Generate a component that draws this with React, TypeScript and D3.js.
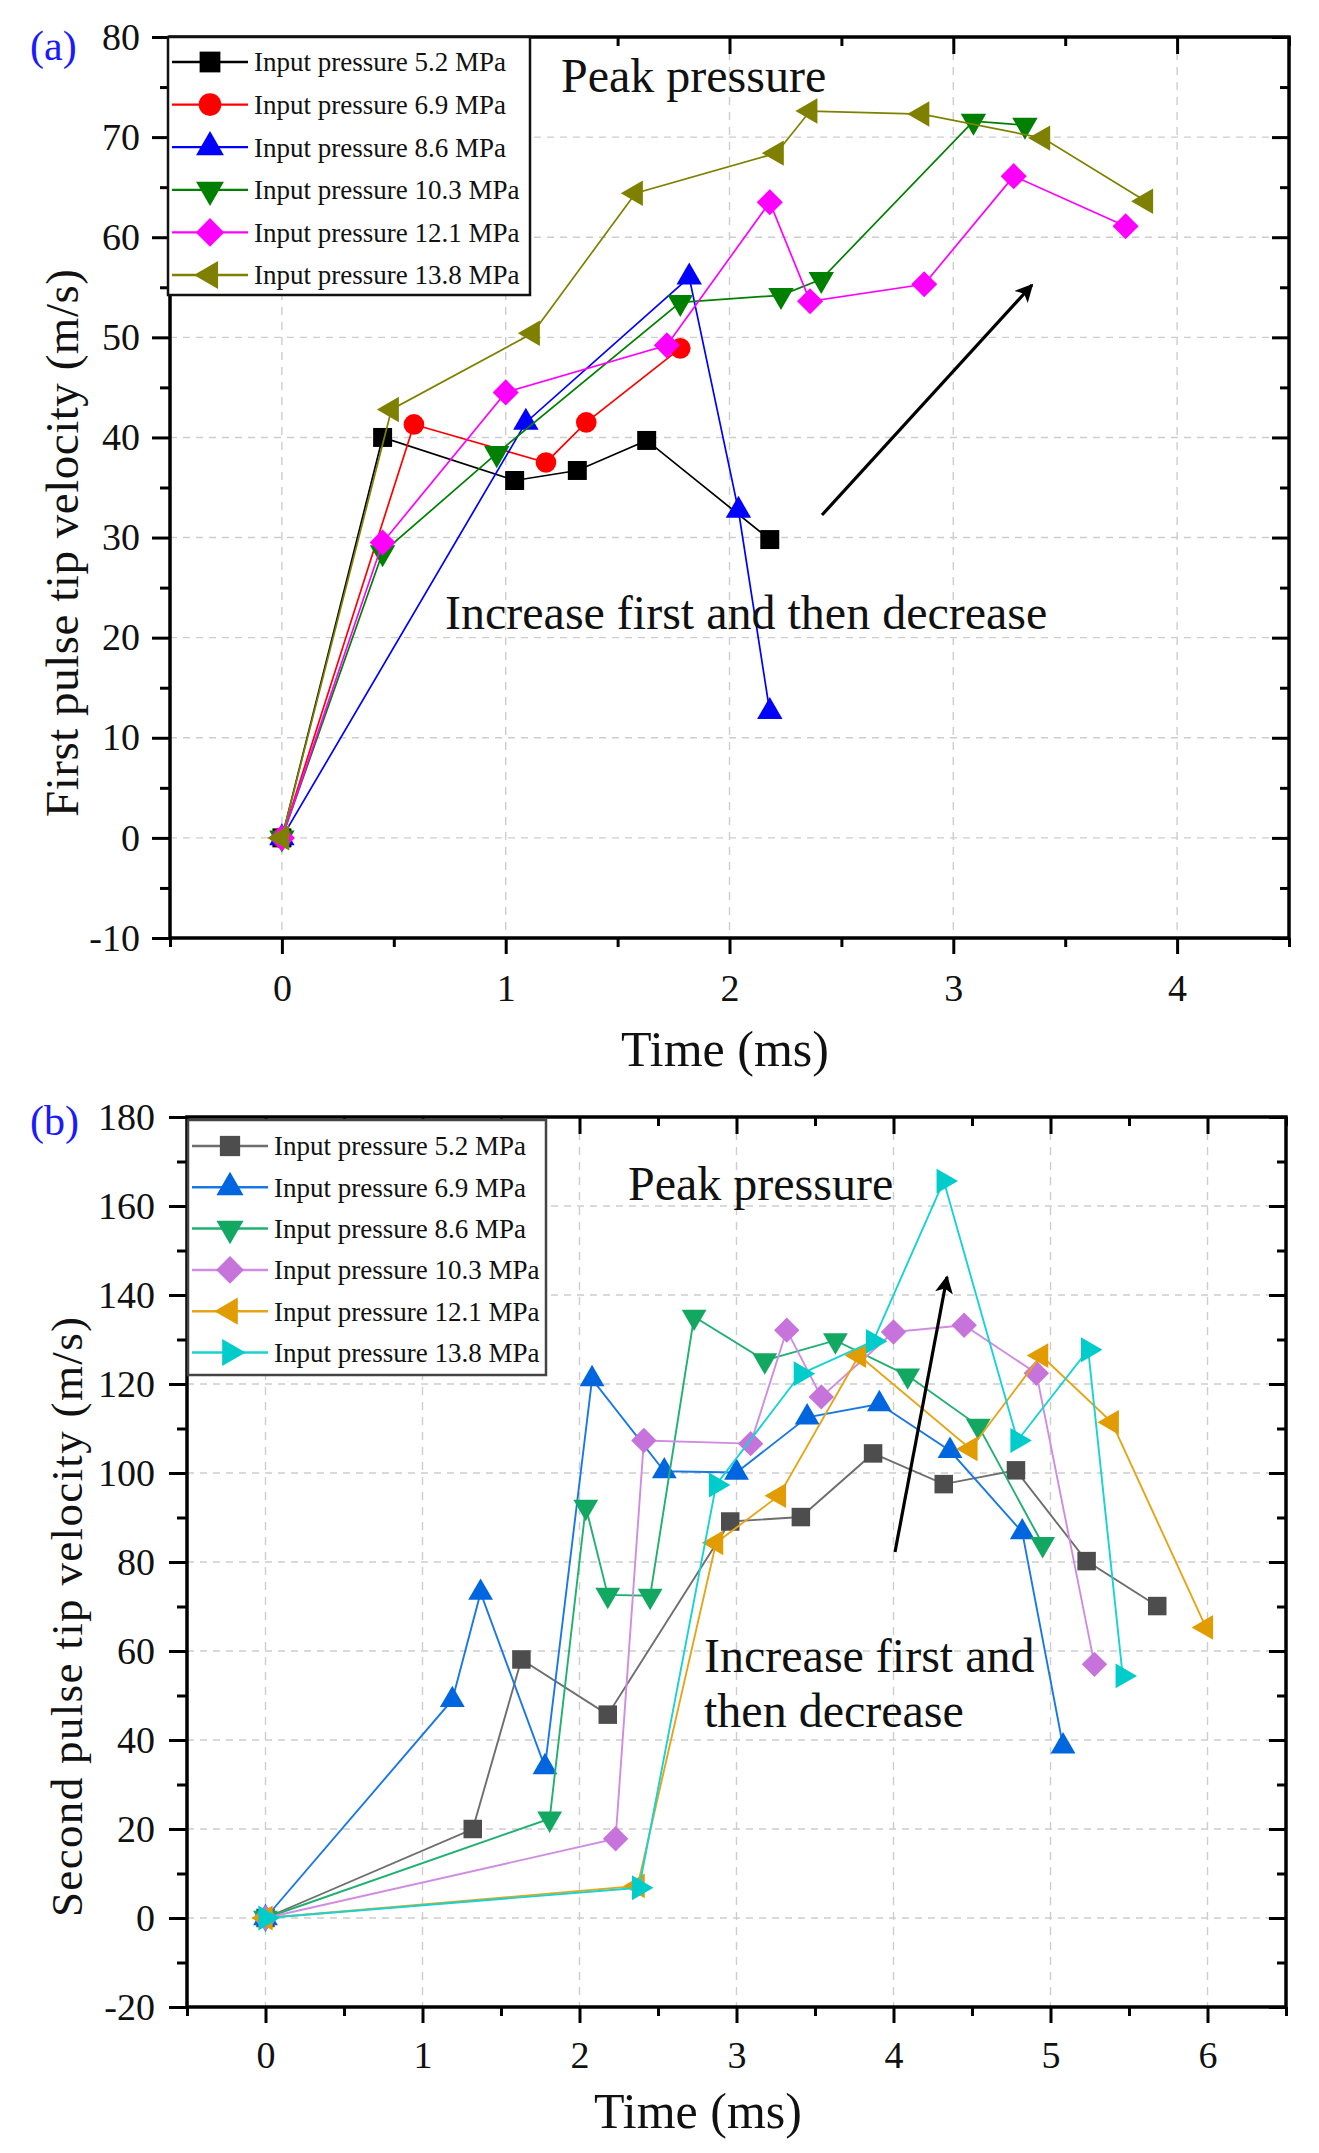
import React, { useEffect, useRef } from 'react';
import * as d3 from 'd3';

const FONT = "'Liberation Serif', 'Times New Roman', serif";

// ---- (a) first pulse tip velocity ----
const legendA = [
  'Input pressure 5.2 MPa',
  'Input pressure 6.9 MPa',
  'Input pressure 8.6 MPa',
  'Input pressure 10.3 MPa',
  'Input pressure 12.1 MPa',
  'Input pressure 13.8 MPa',
];
const tA52 = [0, 0.45, 1.04, 1.32, 1.63, 2.18];
const vA52 = [0, 40.0, 35.7, 36.7, 39.7, 29.8];
const tA69 = [0, 0.59, 1.18, 1.36, 1.78];
const vA69 = [0, 41.3, 37.5, 41.5, 48.9];
const tA86 = [0, 1.09, 1.82, 2.04, 2.18];
const vA86 = [0, 41.5, 56.0, 32.7, 12.6];
const tA103 = [0, 0.45, 0.96, 1.78, 2.23, 2.41, 3.09, 3.32];
const vA103 = [0, 28.5, 38.4, 53.5, 54.2, 55.8, 71.6, 71.2];
const tA121 = [0, 0.45, 1.0, 1.72, 2.18, 2.36, 2.87, 3.27, 3.77];
const vA121 = [0, 29.5, 44.5, 49.2, 63.5, 53.6, 55.3, 66.1, 61.1];
const tA138 = [0, 0.49, 1.12, 1.58, 2.21, 2.36, 2.86, 3.4, 3.86];
const vA138 = [0, 42.8, 50.4, 64.4, 68.4, 72.6, 72.3, 69.9, 63.6];
const colorsA = ['#000000', '#ff0000', '#0000ff', '#008000', '#ff00ff', '#808000'];
const shapesA = ['square', 'circle', 'triUp', 'triDown', 'diamond', 'triLeft'];
const xTicksA = [0, 1, 2, 3, 4];
const xMinorA = [-0.5, 0.5, 1.5, 2.5, 3.5, 4.5];
const yTicksA = [-10, 0, 10, 20, 30, 40, 50, 60, 70, 80];
const yMinorA = [-5, 5, 15, 25, 35, 45, 55, 65, 75];

// ---- (b) second pulse tip velocity ----
const legendB = legendA;
const tB52 = [0, 1.32, 1.63, 2.18, 2.96, 3.41, 3.87, 4.32, 4.78, 5.23, 5.68];
const vB52 = [0, 20.0, 58.1, 45.7, 89.1, 90.1, 104.4, 97.5, 100.6, 80.2, 70.1];
const tB69 = [0, 1.19, 1.37, 1.78, 2.08, 2.54, 3.0, 3.45, 3.91, 4.36, 4.82, 5.08];
const vB69 = [0, 49.0, 73.1, 33.9, 121.1, 100.4, 100.1, 112.5, 115.5, 105.0, 86.7, 38.6];
const tB86 = [0, 1.81, 2.04, 2.18, 2.45, 2.73, 3.18, 3.63, 4.09, 4.54, 4.95];
const vB86 = [0, 22.3, 92.4, 72.6, 72.4, 135.1, 125.3, 129.8, 121.9, 110.6, 84.0];
const tB103 = [0, 2.23, 2.41, 3.09, 3.32, 3.54, 4.0, 4.45, 4.91, 5.28];
const vB103 = [0, 17.8, 107.3, 106.6, 132.1, 117.1, 131.7, 133.2, 122.4, 57.0];
const tB121 = [0, 2.37, 2.87, 3.27, 3.78, 4.49, 4.94, 5.39, 5.99];
const vB121 = [0, 7.2, 84.3, 94.9, 126.4, 105.4, 126.4, 111.4, 65.3];
const tB138 = [0, 2.38, 2.87, 3.41, 3.87, 4.32, 4.79, 5.24, 5.46];
const vB138 = [0, 6.8, 97.3, 122.3, 129.6, 165.6, 107.3, 127.7, 54.4];
const colorsB = ['#4d4d4d', '#0066e0', '#12a862', '#c674dc', '#e09c00', '#00cccc'];
const lineColorsB = ['#6e6e6e', '#1a78e6', '#20b070', '#d08ce2', '#e4a618', '#19d2d2'];
const shapesB = ['square', 'triUp', 'triDown', 'diamond', 'triLeft', 'triRight'];
const xTicksB = [0, 1, 2, 3, 4, 5, 6];
const xMinorB = [-0.5, 0.5, 1.5, 2.5, 3.5, 4.5, 5.5, 6.5];
const yTicksB = [-20, 0, 20, 40, 60, 80, 100, 120, 140, 160, 180];
const yMinorB = [-10, 10, 30, 50, 70, 90, 110, 130, 150, 170];

interface Series {
  label: string;
  t: number[];
  v: number[];
  color: string;
  lineColor: string;
  shape: string;
}

const seriesA: Series[] = [
  [tA52, vA52], [tA69, vA69], [tA86, vA86], [tA103, vA103], [tA121, vA121], [tA138, vA138],
].map(([t, v], i) => ({
  label: legendA[i], t, v, color: colorsA[i], lineColor: colorsA[i], shape: shapesA[i],
}));

const seriesB: Series[] = [
  [tB52, vB52], [tB69, vB69], [tB86, vB86], [tB103, vB103], [tB121, vB121], [tB138, vB138],
].map(([t, v], i) => ({
  label: legendB[i], t, v, color: colorsB[i], lineColor: lineColorsB[i], shape: shapesB[i],
}));

function symbolPath(shape: string, k: number) {
  switch (shape) {
    case 'square':
      return d3.symbol(d3.symbolSquare, 360 * k)()!;
    case 'circle':
      return d3.symbol(d3.symbolCircle, 335 * k)()!;
    case 'diamond':
      return d3.symbol(d3.symbolSquare, 340 * k)()!;
    default:
      return d3.symbol(d3.symbolTriangle, 280 * k)()!;
  }
}

const rotation: Record<string, number> = {
  square: 0, circle: 0, diamond: 45, triUp: 0, triDown: 180, triLeft: -90, triRight: 90,
};

interface PanelSpec {
  tag: string;
  tagY: number;
  left: number;
  right: number;
  top: number;
  bottom: number;
  xDomain: [number, number];
  yDomain: [number, number];
  xTicks: number[];
  xMinor: number[];
  yTicks: number[];
  yMinor: number[];
  xPad: number;
  yPad: number;
  series: Series[];
  lineWidth: number;
  markerScale: number;
  legend: { x0: number; x1: number; y0: number; y1: number; row0: number; step: number; stroke: string };
  yTitle: string;
  yTitleX: number;
  yTitleY: number;
  yTitleLen: number;
  yTitleSize: number;
  xTitleX: number;
  xTitleY: number;
  peak: [number, number];
  note: string[];
  noteX: number;
  noteY: number[];
  arrow: [number, number, number, number];
}

function drawPanel(svg: d3.Selection<SVGSVGElement, unknown, null, undefined>, p: PanelSpec) {
  const x = d3.scaleLinear().domain(p.xDomain).range([p.left, p.right]);
  const y = d3.scaleLinear().domain(p.yDomain).range([p.bottom, p.top]);
  const g = svg.append('g');

  // Grid
  g.append('g')
    .selectAll('line')
    .data(p.xTicks)
    .join('line')
    .attr('x1', d => x(d)).attr('x2', d => x(d))
    .attr('y1', p.top).attr('y2', p.bottom)
    .attr('stroke', '#cdcdcd').attr('stroke-width', 1.4)
    .attr('stroke-dasharray', '8,7');
  g.append('g')
    .selectAll('line')
    .data(p.yTicks.filter(d => d !== p.yDomain[0] && d !== p.yDomain[1]))
    .join('line')
    .attr('x1', p.left).attr('x2', p.right)
    .attr('y1', d => y(d)).attr('y2', d => y(d))
    .attr('stroke', '#cdcdcd').attr('stroke-width', 1.4)
    .attr('stroke-dasharray', '7,6');

  // Axes
  const lab = (d: d3.NumberValue) => String(d);
  const none = () => '';
  g.append('g').attr('transform', `translate(${p.left},0)`)
    .call(d3.axisLeft(y).tickValues(p.yTicks).tickSize(18).tickPadding(p.yPad).tickFormat(lab));
  g.append('g').attr('transform', `translate(${p.left},0)`)
    .call(d3.axisLeft(y).tickValues(p.yMinor).tickSize(10).tickFormat(none));
  g.append('g').attr('transform', `translate(0,${p.bottom})`)
    .call(d3.axisBottom(x).tickValues(p.xTicks).tickSize(16).tickPadding(p.xPad).tickFormat(lab));
  g.append('g').attr('transform', `translate(0,${p.bottom})`)
    .call(d3.axisBottom(x).tickValues(p.xMinor).tickSize(9).tickFormat(none));
  // mirrored ticks pointing inward
  g.append('g').attr('transform', `translate(0,${p.top})`)
    .call(d3.axisBottom(x).tickValues(p.xTicks).tickSize(17).tickFormat(none));
  g.append('g').attr('transform', `translate(0,${p.top})`)
    .call(d3.axisBottom(x).tickValues(p.xMinor).tickSize(9).tickFormat(none));
  g.append('g').attr('transform', `translate(${p.right},0)`)
    .call(d3.axisLeft(y).tickValues(p.yTicks).tickSize(17).tickFormat(none));
  g.append('g').attr('transform', `translate(${p.right},0)`)
    .call(d3.axisLeft(y).tickValues(p.yMinor).tickSize(9).tickFormat(none));

  g.selectAll('.domain').remove();
  g.selectAll('.tick line').attr('stroke', '#000').attr('stroke-width', 3);
  g.selectAll('.tick text')
    .attr('fill', '#111')
    .style('font-family', FONT)
    .style('font-size', '38px');

  g.append('rect')
    .attr('x', p.left).attr('y', p.top)
    .attr('width', p.right - p.left).attr('height', p.bottom - p.top)
    .attr('fill', 'none').attr('stroke', '#000').attr('stroke-width', 3.5);

  // Series
  p.series.forEach(s => {
    const pts = s.t.map((t, i) => [t, s.v[i]] as [number, number]);
    const line = d3.line<[number, number]>().x(d => x(d[0])).y(d => y(d[1]));
    g.append('path')
      .attr('d', line(pts))
      .attr('fill', 'none')
      .attr('stroke', s.lineColor)
      .attr('stroke-width', p.lineWidth);
    g.append('g')
      .selectAll('path')
      .data(pts)
      .join('path')
      .attr('d', symbolPath(s.shape, p.markerScale))
      .attr('transform', d => `translate(${x(d[0])},${y(d[1])}) rotate(${rotation[s.shape]})`)
      .attr('fill', s.color);
  });

  // Legend
  const L = p.legend;
  const lg = g.append('g');
  lg.append('rect')
    .attr('x', L.x0).attr('y', L.y0)
    .attr('width', L.x1 - L.x0).attr('height', L.y1 - L.y0)
    .attr('fill', '#fff').attr('stroke', L.stroke).attr('stroke-width', 2.5);
  p.series.forEach((s, i) => {
    const cy = L.row0 + i * L.step;
    lg.append('line')
      .attr('x1', L.x0 + 4).attr('x2', L.x0 + 80)
      .attr('y1', cy).attr('y2', cy)
      .attr('stroke', s.lineColor).attr('stroke-width', p.lineWidth + 0.6);
    lg.append('path')
      .attr('d', symbolPath(s.shape, p.markerScale * 1.2))
      .attr('transform', `translate(${L.x0 + 42},${cy}) rotate(${rotation[s.shape]})`)
      .attr('fill', s.color);
    lg.append('text')
      .attr('x', L.x0 + 86).attr('y', cy).attr('dy', '0.35em')
      .style('font-family', FONT).style('font-size', '27px')
      .attr('fill', '#111')
      .text(s.label);
  });

  // Titles
  svg.append('text')
    .attr('x', 30).attr('y', p.tagY)
    .style('font-family', FONT).style('font-size', '42px')
    .attr('fill', '#1a1aff')
    .text(p.tag);
  svg.append('text')
    .attr('transform', `translate(${p.yTitleX},${p.yTitleY}) rotate(-90)`)
    .attr('text-anchor', 'middle').attr('dy', '0.35em')
    .attr('textLength', p.yTitleLen).attr('lengthAdjust', 'spacing')
    .style('font-family', FONT).style('font-size', `${p.yTitleSize}px`)
    .attr('fill', '#111')
    .text(p.yTitle);
  svg.append('text')
    .attr('x', p.xTitleX).attr('y', p.xTitleY)
    .attr('text-anchor', 'middle').attr('dy', '0.35em')
    .style('font-family', FONT).style('font-size', '50px')
    .attr('fill', '#111')
    .text('Time (ms)');

  // Annotations
  svg.append('text')
    .attr('x', p.peak[0]).attr('y', p.peak[1])
    .style('font-family', FONT).style('font-size', '48px')
    .attr('fill', '#111')
    .text('Peak pressure');
  p.note.forEach((line, i) => {
    svg.append('text')
      .attr('x', p.noteX).attr('y', p.noteY[i])
      .style('font-family', FONT).style('font-size', '48px')
      .attr('fill', '#111')
      .text(line);
  });
  const [ax1, ay1, ax2, ay2] = p.arrow;
  svg.append('line')
    .attr('x1', ax1).attr('y1', ay1).attr('x2', ax2).attr('y2', ay2)
    .attr('stroke', '#000').attr('stroke-width', 3.2)
    .attr('marker-end', 'url(#arrowhead)');
}

export default function App() {
  const svgRef = useRef<SVGSVGElement>(null);

  useEffect(() => {
    if (!svgRef.current) return;
    const svg = d3.select(svgRef.current);
    svg.selectAll('*').remove();

    svg.append('rect').attr('width', 1319).attr('height', 2153).attr('fill', '#fff');

    svg.append('defs')
      .append('marker')
      .attr('id', 'arrowhead')
      .attr('viewBox', '0 0 10 10')
      .attr('refX', 9).attr('refY', 5)
      .attr('markerUnits', 'userSpaceOnUse')
      .attr('markerWidth', 24).attr('markerHeight', 18)
      .attr('orient', 'auto')
      .append('path')
      .attr('d', 'M0,0 L10,5 L0,10 L2.5,5 Z')
      .attr('fill', '#000');

    drawPanel(svg, {
      tag: '(a)',
      tagY: 60,
      left: 170, right: 1289, top: 37, bottom: 938,
      xDomain: [-0.5, 4.5], yDomain: [-10, 80],
      xTicks: xTicksA, xMinor: xMinorA, yTicks: yTicksA, yMinor: yMinorA,
      xPad: 20, yPad: 12,
      series: seriesA,
      lineWidth: 1.7,
      markerScale: 1,
      legend: { x0: 168, x1: 530, y0: 37, y1: 295, row0: 62, step: 42.6, stroke: '#111' },
      yTitle: 'First pulse tip velocity (m/s)',
      yTitleX: 62, yTitleY: 543, yTitleLen: 548, yTitleSize: 47,
      xTitleX: 725, xTitleY: 1048,
      peak: [561, 92],
      note: ['Increase first and then decrease'],
      noteX: 445, noteY: [629],
      arrow: [822, 515, 1032, 285],
    });

    drawPanel(svg, {
      tag: '(b)',
      tagY: 1135,
      left: 187, right: 1286, top: 1117, bottom: 2007,
      xDomain: [-0.5, 6.5], yDomain: [-20, 180],
      xTicks: xTicksB, xMinor: xMinorB, yTicks: yTicksB, yMinor: yMinorB,
      xPad: 18, yPad: 14,
      series: seriesB,
      lineWidth: 1.9,
      markerScale: 0.95,
      legend: { x0: 188, x1: 546, y0: 1120, y1: 1375, row0: 1146, step: 41.3, stroke: '#444' },
      yTitle: 'Second pulse tip velocity (m/s)',
      yTitleX: 66, yTitleY: 1617, yTitleLen: 600, yTitleSize: 45,
      xTitleX: 698, xTitleY: 2110,
      peak: [628, 1200],
      note: ['Increase first and', 'then decrease'],
      noteX: 704, noteY: [1672, 1727],
      arrow: [895, 1552, 947, 1277],
    });
  }, []);

  return (
    <svg
      ref={svgRef}
      width={1319}
      height={2153}
      viewBox="0 0 1319 2153"
      style={{ position: 'absolute', left: 0, top: 0, display: 'block' }}
    />
  );
}
